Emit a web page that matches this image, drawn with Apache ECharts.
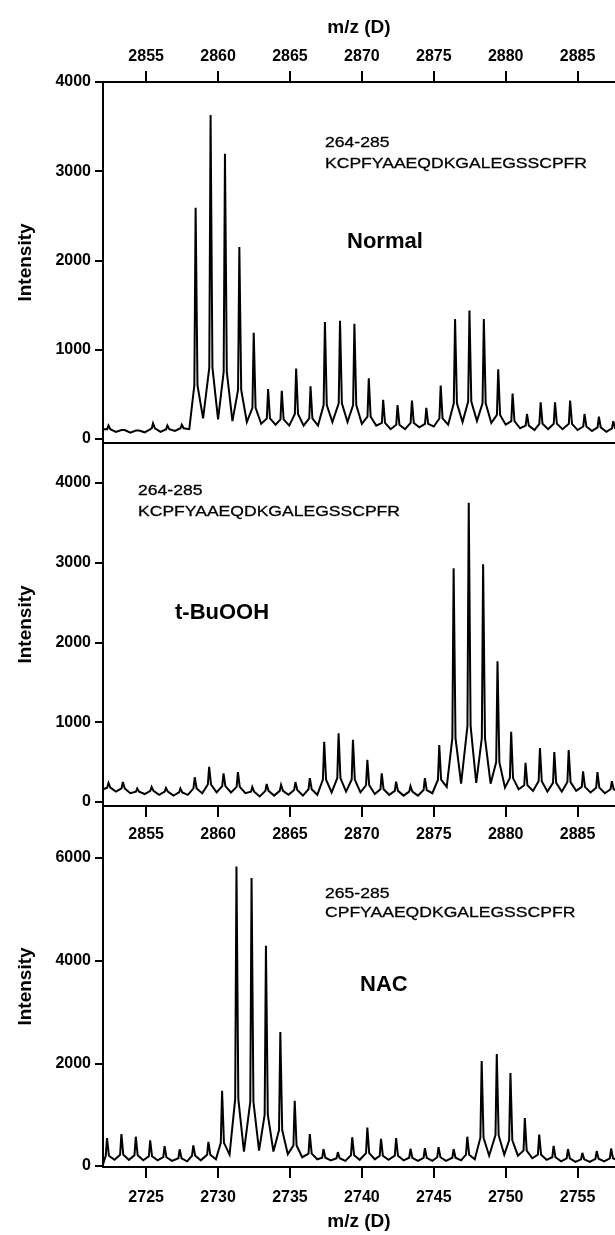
<!DOCTYPE html>
<html>
<head>
<meta charset="utf-8">
<script src="https://cdn.jsdelivr.net/npm/echarts@6.0.0/dist/echarts.min.js"></script>
<style>
  html, body { margin: 0; padding: 0; background: #fff; }
  #chart { width: 615px; height: 1235px; }
</style>
</head>
<body>
<div id="chart"></div>
<script>
// --- data (m/z in D, intensity in counts) ----------------------------------
// Each panel: peak positions, peak tops, the level where each spike broadens
// ("foot"), and the valley level just after each peak.

// Normal, 264-285
const normalStart = [2852, 110];
const normalPeakMz = [2852.4, 2853.4, 2854.4, 2855.5, 2856.5, 2857.5, 2858.46, 2859.5, 2860.5, 2861.5,
  2862.5, 2863.5, 2864.45, 2865.45, 2866.45, 2867.45, 2868.5, 2869.5, 2870.5, 2871.5, 2872.5, 2873.5,
  2874.5, 2875.5, 2876.5, 2877.5, 2878.5, 2879.5, 2880.5, 2881.5, 2882.45, 2883.45, 2884.5, 2885.5,
  2886.5, 2887.5];
const normalPeakInt = [150, 120, 110, 175, 150, 160, 2590, 3630, 3195, 2150,
  1190, 560, 540, 790, 590, 1310, 1325, 1290, 680, 440, 380, 430,
  350, 600, 1345, 1440, 1345, 780, 510, 280, 410, 410, 430, 280,
  250, 200];
const normalFootInt = [110, 100, 95, 120, 110, 120, 600, 800, 750, 550,
  350, 230, 220, 280, 230, 380, 400, 380, 250, 180, 160, 180,
  170, 230, 400, 420, 400, 270, 200, 150, 170, 170, 170, 140,
  130, 120];
const normalValleyInt = [80, 70, 75, 80, 90, 110, 230, 220, 200, 190,
  170, 160, 150, 150, 150, 190, 190, 170, 150, 110, 110, 130,
  140, 160, 190, 200, 180, 160, 120, 100, 110, 110, 100, 90,
  80, 90];

// t-BuOOH, 264-285
const tbuStart = [2852, 160];
const tbuPeakMz = [2852.4, 2853.4, 2854.4, 2855.4, 2856.4, 2857.4, 2858.4, 2859.4, 2860.4, 2861.4,
  2862.4, 2863.4, 2864.4, 2865.4, 2866.4, 2867.4, 2868.4, 2869.4, 2870.4, 2871.4, 2872.4, 2873.4,
  2874.4, 2875.4, 2876.4, 2877.45, 2878.45, 2879.45, 2880.4, 2881.4, 2882.4, 2883.4, 2884.4, 2885.4,
  2886.4, 2887.4];
const tbuPeakInt = [240, 250, 170, 190, 175, 170, 310, 440, 360, 375,
  190, 225, 215, 250, 300, 755, 860, 780, 530, 360, 255, 200,
  300, 715, 2930, 3750, 2980, 1765, 880, 490, 675, 625, 650, 385,
  375, 260];
const tbuFootInt = [180, 170, 130, 140, 130, 120, 170, 220, 200, 190,
  130, 140, 140, 150, 160, 280, 300, 280, 210, 160, 140, 130,
  150, 280, 800, 950, 800, 500, 300, 210, 260, 240, 250, 190,
  180, 160];
const tbuValleyInt = [130, 110, 100, 90, 80, 90, 110, 120, 120, 110,
  70, 80, 90, 80, 90, 120, 130, 120, 100, 90, 80, 80,
  110, 190, 230, 240, 230, 180, 160, 140, 130, 130, 140, 120,
  110, 130];

// NAC, 265-285
const nacStart = [2722, 30];
const nacPeakMz = [2722.3, 2723.3, 2724.3, 2725.3, 2726.3, 2727.35, 2728.3, 2729.35, 2730.3, 2731.3,
  2732.35, 2733.35, 2734.35, 2735.35, 2736.4, 2737.35, 2738.35, 2739.35, 2740.4, 2741.35, 2742.4,
  2743.4, 2744.4, 2745.35, 2746.4, 2747.35, 2748.35, 2749.4, 2750.35, 2751.35, 2752.35, 2753.35,
  2754.35, 2755.35, 2756.35, 2757.35];
const nacPeakInt = [545, 620, 570, 500, 385, 325, 400, 470, 1465, 5830,
  5610, 4290, 2610, 1270, 620, 330, 270, 560, 750, 530, 545,
  335, 345, 365, 330, 570, 2045, 2180, 1810, 935, 610, 390,
  330, 255, 290, 340];
const nacFootInt = [200, 220, 210, 190, 170, 150, 200, 220, 450, 1300,
  1250, 1000, 700, 400, 240, 160, 150, 210, 250, 200, 200,
  160, 160, 170, 160, 220, 550, 600, 500, 300, 220, 170,
  150, 130, 140, 150];
const nacValleyInt = [120, 120, 110, 110, 100, 90, 110, 130, 220, 280,
  300, 280, 230, 170, 130, 110, 100, 120, 130, 120, 110,
  100, 100, 100, 110, 130, 200, 220, 200, 150, 120, 90,
  80, 80, 90, 100];

// axis ticks
const intensityTicks4k = [0, 1000, 2000, 3000, 4000];
const intensityTicks6k = [0, 2000, 4000, 6000];
const mzTicksHigh = [2855, 2860, 2865, 2870, 2875, 2880, 2885];
const mzTicksLow = [2725, 2730, 2735, 2740, 2745, 2750, 2755];

// --- helpers -----------------------------------------------------------------
// Spike outline: foot -> flat-ish top -> foot -> valley, one per peak.
function trace(start, mz, top, foot, valley) {
  const pts = [start];
  mz.forEach((m, i) => {
    pts.push(
      [m - 0.11, foot[i]], [m - 0.02, top[i]], [m + 0.02, top[i]],
      [m + 0.11, foot[i]], [m + 0.5, valley[i]]
    );
  });
  return pts;
}

const INK = "#000";
const FONT = "'Liberation Sans', Arial, sans-serif";
const tickLabel = {
  color: INK, fontFamily: FONT, fontWeight: "bold", fontSize: 16,
  formatter: (v) => String(v),
};

function yAxis(grid, min, max, ticks) {
  return {
    type: "value", gridIndex: grid, min, max,
    name: "Intensity", nameLocation: "middle", nameGap: 68, nameRotate: 90,
    nameTextStyle: { color: INK, fontFamily: FONT, fontWeight: "bold", fontSize: 19 },
    axisLine: { show: true, lineStyle: { color: INK, width: 2 } },
    axisTick: { show: true, length: 8, lineStyle: { color: INK, width: 2 }, customValues: ticks },
    axisLabel: { ...tickLabel, margin: 12, customValues: ticks },
    splitLine: { show: false },
  };
}

function xAxis(grid, min, max, pos, ticks, margin, name) {
  return {
    type: "value", gridIndex: grid, min, max, position: pos,
    name: name || "", nameLocation: "middle", nameGap: 45,
    nameTextStyle: { color: INK, fontFamily: FONT, fontWeight: "bold", fontSize: 19 },
    axisLine: { show: true, onZero: false, lineStyle: { color: INK, width: 2 } },
    axisTick: { show: !!ticks, length: 11, lineStyle: { color: INK, width: 2 }, customValues: ticks || [] },
    axisLabel: { show: !!ticks, ...tickLabel, margin, customValues: ticks || [] },
    splitLine: { show: false },
  };
}

function label(x, y, text, size, bold, sx) {
  return {
    type: "text", x, y, scaleX: sx || 1, silent: true,
    style: {
      text, x: 0, y: 0, fill: INK,
      font: `${bold ? "bold " : ""}${size}px ${FONT}`,
      textAlign: "left", textVerticalAlign: "middle",
      stroke: bold ? null : INK, lineWidth: bold ? 0 : 0.3,
    },
  };
}

function spectrum(data, axis) {
  return {
    type: "line", xAxisIndex: axis, yAxisIndex: axis === 0 ? 0 : axis - 1,
    data, showSymbol: false, symbol: "none", clip: true,
    lineStyle: { color: INK, width: 2, join: "miter", miterLimit: 4 }, animation: false,
  };
}

// --- chart -------------------------------------------------------------------
const chart = echarts.init(document.getElementById("chart"), null, { renderer: "canvas" });

chart.setOption({
  animation: false,
  backgroundColor: "#fff",
  grid: [
    { left: 103, right: 0, top: 82, height: 361 },
    { left: 103, right: 0, top: 443, height: 363 },
    { left: 103, right: 0, top: 806, height: 361 },
  ],
  xAxis: [
    xAxis(0, 2852, 2887.6, "top", mzTicksHigh, 17, "m/z (D)"),
    xAxis(0, 2852, 2887.6, "bottom", null, 0),
    xAxis(1, 2852, 2887.6, "bottom", mzTicksHigh, 21, null),
    xAxis(2, 2722, 2757.6, "bottom", mzTicksLow, 23, "m/z (D)"),
  ],
  yAxis: [
    yAxis(0, -45, 4000, intensityTicks4k),
    yAxis(1, -50, 4500, intensityTicks4k),
    yAxis(2, -20, 7010, intensityTicks6k),
  ],
  series: [
    spectrum(trace(normalStart, normalPeakMz, normalPeakInt, normalFootInt, normalValleyInt), 0),
    spectrum(trace(tbuStart, tbuPeakMz, tbuPeakInt, tbuFootInt, tbuValleyInt), 2),
    spectrum(trace(nacStart, nacPeakMz, nacPeakInt, nacFootInt, nacValleyInt), 3),
  ],
  graphic: [
    label(325, 143, "264-285", 15, false, 1.17),
    label(325, 164, "KCPFYAAEQDKGALEGSSCPFR", 15, false, 1.17),
    label(347, 242, "Normal", 22, true),
    label(138, 491, "264-285", 15, false, 1.17),
    label(138, 512, "KCPFYAAEQDKGALEGSSCPFR", 15, false, 1.17),
    label(175, 613, "t-BuOOH", 22, true),
    label(325, 894, "265-285", 15, false, 1.17),
    label(325, 913, "CPFYAAEQDKGALEGSSCPFR", 15, false, 1.17),
    label(360, 985, "NAC", 22, true),
  ],
});
</script>
</body>
</html>
